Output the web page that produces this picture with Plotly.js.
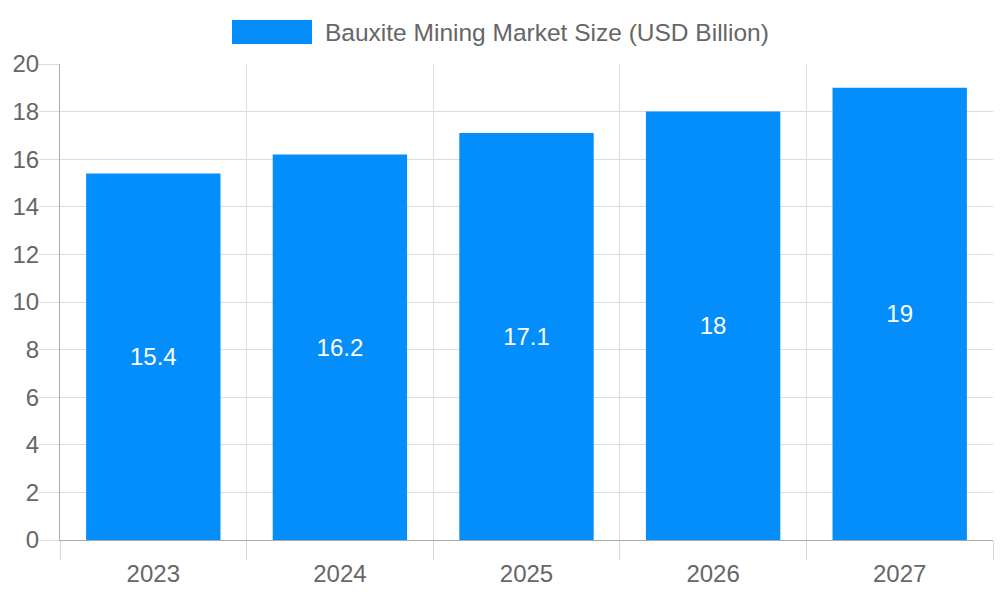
<!DOCTYPE html>
<html>
<head>
<meta charset="utf-8">
<script src="https://cdn.plot.ly/plotly-3.0.1.min.js"></script>
<style>
  html, body { margin: 0; padding: 0; background: #fff; }
  #chart { width: 1000px; height: 600px; }
</style>
</head>
<body>
<div id="chart"></div>
<script>
const years = ['2023', '2024', '2025', '2026', '2027'];
const marketSize = [15.4, 16.2, 17.1, 18, 19];
const seriesName = 'Bauxite Mining Market Size (USD Billion)';

const barColor = '#038efb';
const fontFamily = '"Liberation Sans", Arial, sans-serif';
const chartDiv = document.getElementById('chart');

Plotly.newPlot(chartDiv, [{
  x: years,
  y: marketSize,
  type: 'bar',
  name: seriesName,
  width: 0.72,
  marker: { color: barColor },
  text: marketSize.map(String),
  textposition: 'inside',
  insidetextanchor: 'middle',
  textfont: { color: '#ffffff', size: 24, family: fontFamily },
  hoverinfo: 'none',
}], {
  width: 1000,
  height: 600,
  paper_bgcolor: '#ffffff',
  plot_bgcolor: '#ffffff',
  margin: { t: 64, r: 7, b: 60, l: 60 },
  font: { family: fontFamily, color: '#666666', size: 24 },
  showlegend: false,
  xaxis: {
    type: 'category',
    range: [-0.5, 4.5],
    tickson: 'boundaries',
    ticks: 'outside',
    ticklen: 19,
    tickcolor: '#d6d6d6',
    showgrid: true,
    gridcolor: '#dddddd',
    showline: true,
    linecolor: '#aaaaaa',
    tickfont: { size: 24, color: '#666666' },
    ticklabelstandoff: 12,
    zeroline: false,
  },
  yaxis: {
    range: [0, 20],
    dtick: 2,
    ticks: 'outside',
    ticklen: 20,
    tickcolor: '#dddddd',
    gridcolor: '#dddddd',
    showline: true,
    linecolor: '#aaaaaa',
    zeroline: true,
    zerolinecolor: '#aaaaaa',
    tickfont: { size: 24, color: '#666666' },
    ticklabelstandoff: -5,
  },
  shapes: [{
    type: 'rect', xref: 'paper', yref: 'paper',
    x0: (232 - 60) / 933, x1: (312 - 60) / 933,
    y0: (540 - 44) / 476, y1: (540 - 20) / 476,
    fillcolor: barColor, line: { width: 0 },
  }],
  annotations: [{
    xref: 'paper', yref: 'paper',
    x: (323 - 60) / 933, y: (540 - 32) / 476,
    xanchor: 'left', yanchor: 'middle',
    text: seriesName,
    showarrow: false,
    font: { size: 24.5, color: '#666666' },
  }],
}, { displayModeBar: false, staticPlot: true });
</script>
</body>
</html>
